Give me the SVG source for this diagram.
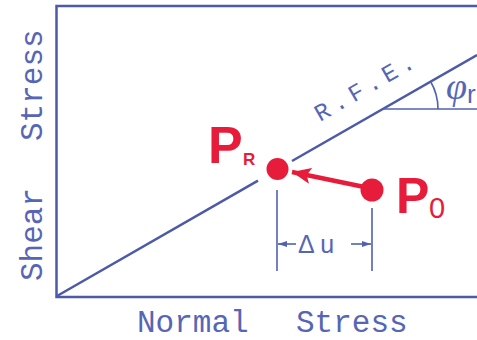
<svg xmlns="http://www.w3.org/2000/svg" width="477" height="340" viewBox="0 0 477 340">
<style>
.ax{stroke:#4c5aa8;stroke-width:2.5;fill:none}
.thin{stroke:#5262b0;stroke-width:1.6;fill:none}
.lab{font-family:"Liberation Mono",monospace;font-size:31px;fill:#5666b4}
.red{fill:#e61c3a}
.pt{font-family:"Liberation Sans",Arial,sans-serif;font-weight:bold;fill:#e61c3a}
</style>
<defs>
<marker id="ah" markerWidth="10" markerHeight="8" refX="9" refY="4" orient="auto" markerUnits="userSpaceOnUse">
<path d="M0,1 L9,4 L0,7 Z" fill="#5262b0"/>
</marker>
<marker id="rah" markerWidth="20" markerHeight="16" refX="19" refY="8" orient="auto" markerUnits="userSpaceOnUse">
<path d="M0,0 L19,8 L0,16 L4,8 Z" fill="#e61c3a"/>
</marker>
</defs>
<rect width="477" height="340" fill="#ffffff"/>
<g id="axes">
<path class="ax" d="M477,6 H56.5 V297 H477"/>
<text class="lab" transform="translate(42,281) rotate(-90)">Shear</text>
<text class="lab" transform="translate(42,141) rotate(-90)">Stress</text>
<text class="lab" x="137" y="332">Normal</text>
<text class="lab" x="296" y="332">Stress</text>
</g>
<g id="rfe">
<path class="ax" d="M57,296 L258,180.6 M292,161 L477,55"/>
<path class="thin" d="M383,109 H477"/>
<path class="thin" d="M438,109 A55,55 0 0 0 430.6,81.5"/>
<text transform="translate(320,122) rotate(-29.9)" font-family="Liberation Mono,monospace" font-size="24" letter-spacing="5" fill="#5666b4">R.F.E.</text>
<text x="446" y="99" font-family="Liberation Serif,serif" font-style="italic" font-size="38" fill="#5666b4">φ<tspan font-family="Liberation Sans,sans-serif" font-style="normal" font-size="26" dy="4">r</tspan></text>
</g>
<g id="connectors">
<path d="M362,186.5 L292,172" stroke="#e61c3a" stroke-width="4.5" fill="none" marker-end="url(#rah)"/>
<path class="thin" d="M277,190 V271 M372,208 V271"/>
<path class="thin" d="M296,244 H278" marker-end="url(#ah)"/>
<path class="thin" d="M351,244 H371" marker-end="url(#ah)"/>
<text x="298" y="253" font-family="Liberation Sans,Arial,sans-serif" font-size="25" fill="#5666b4">Δ u</text>
</g>
<g id="PR">
<circle class="red" cx="277.5" cy="169" r="11"/>
<text class="pt" x="208" y="163" font-size="52">P</text>
<text class="pt" x="243" y="165" font-size="17">R</text>
</g>
<g id="P0">
<circle class="red" cx="372" cy="190" r="11.5"/>
<text class="pt" x="396" y="213" font-size="50">P</text>
<text x="429" y="218" font-family="Liberation Sans,Arial,sans-serif" font-size="29" fill="#e61c3a">0</text>
</g>
</svg>
